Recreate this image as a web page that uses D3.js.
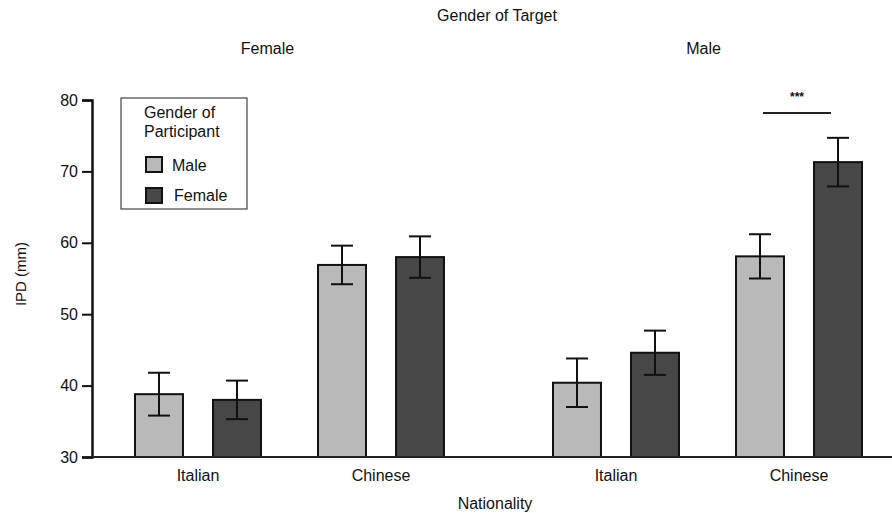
<!DOCTYPE html>
<html>
<head>
<meta charset="utf-8">
<script src="https://cdn.jsdelivr.net/npm/d3@7"></script>
<style>
  body { margin: 0; background: #fff; }
  svg text { font-family: "Liberation Sans", Arial, sans-serif; fill: #111; }
</style>
</head>
<body>
<svg id="chart" width="892" height="513"></svg>
<script>
// data
const targets = ["Female", "Male"];          // gender of target (panels)
const nationalities = ["Italian", "Chinese"];
const participants = ["Male", "Female"];     // gender of participant (bars)
const means = [
  // target, nationality, participant, mean, error
  ["Female", "Italian", "Male", 38.8, 3.0],
  ["Female", "Italian", "Female", 38.0, 2.7],
  ["Female", "Chinese", "Male", 56.9, 2.7],
  ["Female", "Chinese", "Female", 58.0, 2.9],
  ["Male", "Italian", "Male", 40.4, 3.4],
  ["Male", "Italian", "Female", 44.6, 3.1],
  ["Male", "Chinese", "Male", 58.1, 3.1],
  ["Male", "Chinese", "Female", 71.3, 3.4]
];
const yTicks = [30, 40, 50, 60, 70, 80];
const colors = { Male: "#b9b9b9", Female: "#474747" };

const svg = d3.select("#chart");

const y = d3.scaleLinear().domain([30, 80]).range([457, 100]);

// panel -> nationality -> participant
const x0 = d3.scaleBand().domain(targets).range([80.5, 916.5]);
const x1 = d3.scalePoint().domain(nationalities).range([0, x0.bandwidth()]).padding(0.642);
const x2 = d3.scaleBand().domain(participants).range([-63, 63]).paddingInner(0.385);

const cx = d => x0(d[0]) + x1(d[1]);

// bars
const g = svg.append("g");
g.selectAll("rect.bar")
  .data(means).enter().append("rect")
  .attr("class", "bar")
  .attr("x", d => cx(d) + x2(d[2]))
  .attr("y", d => y(d[3]))
  .attr("width", x2.bandwidth())
  .attr("height", d => y(30) - y(d[3]))
  .style("fill", d => colors[d[2]])
  .style("stroke", "#111")
  .style("stroke-width", 2);

// error bars
const err = g.selectAll("g.err")
  .data(means).enter().append("g")
  .attr("class", "err")
  .attr("transform", d => `translate(${cx(d) + x2(d[2]) + x2.bandwidth() / 2},0)`);
err.append("line")
  .attr("x1", 0).attr("x2", 0)
  .attr("y1", d => y(d[3] + d[4]))
  .attr("y2", d => y(d[3] - d[4]));
err.append("line")
  .attr("x1", -11).attr("x2", 11)
  .attr("y1", d => y(d[3] + d[4])).attr("y2", d => y(d[3] + d[4]));
err.append("line")
  .attr("x1", -11).attr("x2", 11)
  .attr("y1", d => y(d[3] - d[4])).attr("y2", d => y(d[3] - d[4]));
err.selectAll("line").style("stroke", "#111").style("stroke-width", 2);

// y axis
const yAxis = svg.append("g")
  .attr("transform", "translate(92,0)")
  .call(d3.axisLeft(y).tickValues(yTicks).tickSize(10).tickPadding(4));
yAxis.select(".domain").style("stroke", "#111").style("stroke-width", 2.5);
yAxis.selectAll(".tick line").style("stroke", "#111").style("stroke-width", 2);
yAxis.selectAll("text").style("font-size", "16px");

// x baseline
svg.append("line")
  .attr("x1", 92).attr("x2", 892)
  .attr("y1", y(30)).attr("y2", y(30))
  .style("stroke", "#222").style("stroke-width", 2);

// nationality labels
const combos = targets.flatMap(t => nationalities.map(n => [t, n]));
svg.selectAll("text.nat")
  .data(combos).enter().append("text")
  .attr("class", "nat")
  .attr("x", d => cx(d))
  .attr("y", 481)
  .attr("text-anchor", "middle")
  .style("font-size", "16px")
  .text(d => d[1]);

// panel labels
svg.selectAll("text.panel")
  .data(targets).enter().append("text")
  .attr("class", "panel")
  .attr("x", d => x0(d) + x0.bandwidth() / 2 - (d === "Female" ? 22 : 4))
  .attr("y", 54)
  .attr("text-anchor", "middle")
  .style("font-size", "16px")
  .text(d => d);

svg.append("text")
  .attr("x", 497).attr("y", 21)
  .attr("text-anchor", "middle")
  .style("font-size", "16px")
  .text("Gender of Target");

svg.append("text")
  .attr("x", 495).attr("y", 509)
  .attr("text-anchor", "middle")
  .style("font-size", "16px")
  .text("Nationality");

svg.append("text")
  .attr("transform", "translate(26,274) rotate(-90)")
  .attr("text-anchor", "middle")
  .style("font-size", "15px")
  .text("IPD (mm)");

// significance marker over male-target Chinese pair
const sig = means.filter(d => d[0] === "Male" && d[1] === "Chinese");
const sx1 = cx(sig[0]) + x2("Male") + x2.bandwidth() / 2;
const sx2 = cx(sig[1]) + x2("Female") + x2.bandwidth() / 2;
svg.append("line")
  .attr("x1", sx1 + 3).attr("x2", sx2 - 7)
  .attr("y1", 113).attr("y2", 113)
  .style("stroke", "#222").style("stroke-width", 2);
svg.append("text")
  .attr("x", (sx1 + sx2) / 2 - 2).attr("y", 101)
  .attr("text-anchor", "middle")
  .style("font-size", "12px").style("font-weight", "bold")
  .text("***");

// legend
const lg = svg.append("g").attr("transform", "translate(121,98)");
lg.append("rect")
  .attr("width", 126).attr("height", 111)
  .style("fill", "#fff").style("stroke", "#444").style("stroke-width", 1.2);
lg.append("text").attr("x", 23).attr("y", 20).style("font-size", "16px").text("Gender of");
lg.append("text").attr("x", 23).attr("y", 39).style("font-size", "16px").text("Participant");
participants.forEach((p, i) => {
  lg.append("rect")
    .attr("x", 25).attr("y", 59 + i * 31)
    .attr("width", 16).attr("height", 15)
    .style("fill", colors[p]).style("stroke", "#111").style("stroke-width", 2);
  lg.append("text")
    .attr("x", p === "Male" ? 51 : 53).attr("y", 73 + i * 30)
    .style("font-size", "16px")
    .text(p);
});
</script>
</body>
</html>
